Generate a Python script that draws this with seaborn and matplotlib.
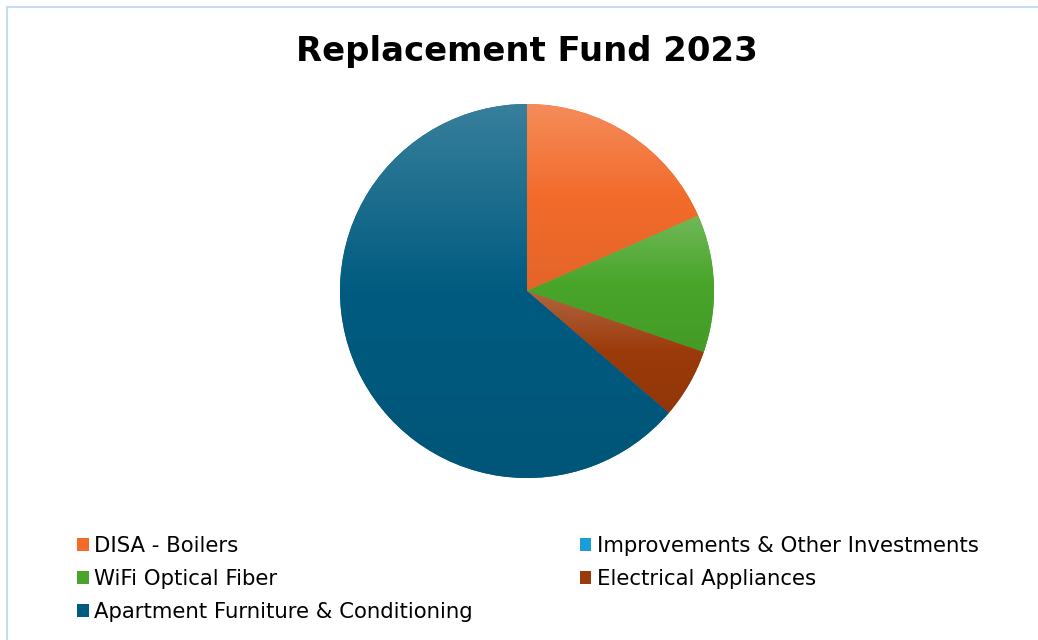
import numpy as np
import matplotlib
matplotlib.use('Agg')
import matplotlib.pyplot as plt
import matplotlib.colors as mcolors
from matplotlib.patches import Patch
from matplotlib.lines import Line2D
import seaborn as sns

sns.set_theme(style='white')
plt.rcParams['font.family'] = ['DejaVu Sans']

# data (share of the fund, %)
categories = ['DISA - Boilers', 'Improvements & Other Investments', 'WiFi Optical Fiber',
              'Electrical Appliances', 'Apartment Furniture & Conditioning']
values = [18.4, 0.0, 11.9, 6.0, 63.7]
colors = ['#f26b2b', '#1a9ed9', '#48a52a', '#9b3a0a', '#005b80']

fig = plt.figure(figsize=(10.38, 6.4), dpi=100)
fig.patch.set_facecolor('white')

# light blue frame of the chart area (only left and top visible)
fx, fy = 6.5 / 1038, 1 - 6.5 / 640
fig.add_artist(Line2D([fx, fx], [-0.05, fy], transform=fig.transFigure, color='#c5dbf0', lw=1.5))
fig.add_artist(Line2D([fx, 1.05], [fy, fy], transform=fig.transFigure, color='#c5dbf0', lw=1.5))

ax = fig.add_axes([(527 - 187) / 1038, (640 - 291 - 187) / 640, 374 / 1038, 374 / 640])
wedges, _ = ax.pie(values, colors=colors, startangle=90, counterclock=False,
                   radius=1, wedgeprops=dict(linewidth=0))


def shade(c):
    base = np.array(mcolors.to_rgb(c))
    light = base + (1 - base) * 0.22
    dark = base * 0.94
    t = np.linspace(0, 1, 256)[:, None]
    # light at top, base around 50%, slightly darker at bottom
    g = np.where(t < 0.5, light + (base - light) * (t / 0.5),
                 base + (dark - base) * ((t - 0.5) / 0.5))
    return g[:, None, :]


# vertical gradient in each slice
for w, c, v in zip(wedges, colors, values):
    if v <= 0:
        continue
    verts = w.get_path().vertices
    y0, y1 = verts[:, 1].min(), verts[:, 1].max()
    img = ax.imshow(shade(c), extent=(-1, 1, y0, y1), aspect='auto', zorder=2,
                    interpolation='bilinear')
    img.set_clip_path(w)
    w.set_zorder(1)

ax.set_xlim(-1, 1)
ax.set_ylim(-1, 1)
ax.set_aspect('equal')
ax.axis('off')

fig.text(527 / 1038, 1 - 51 / 640, 'Replacement Fund 2023', ha='center', va='center',
         fontsize=24.4, fontweight='bold', color='black')

# legend, two columns filled top to bottom
order = [0, 2, 4, 1, 3]
handles = [Patch(facecolor=colors[i], edgecolor='none') for i in order]
labels = [categories[i] for i in order]
fig.legend(handles, labels, ncol=2, loc='upper left', bbox_to_anchor=(77 / 1038, 1 - 536 / 640),
           frameon=False, fontsize=15.3, labelcolor='black', handlelength=0.55, handleheight=0.55,
           handletextpad=0.25, labelspacing=0.62, columnspacing=5.03, borderaxespad=0,
           borderpad=0)

fig.savefig('out.png', dpi=100, facecolor='white')
